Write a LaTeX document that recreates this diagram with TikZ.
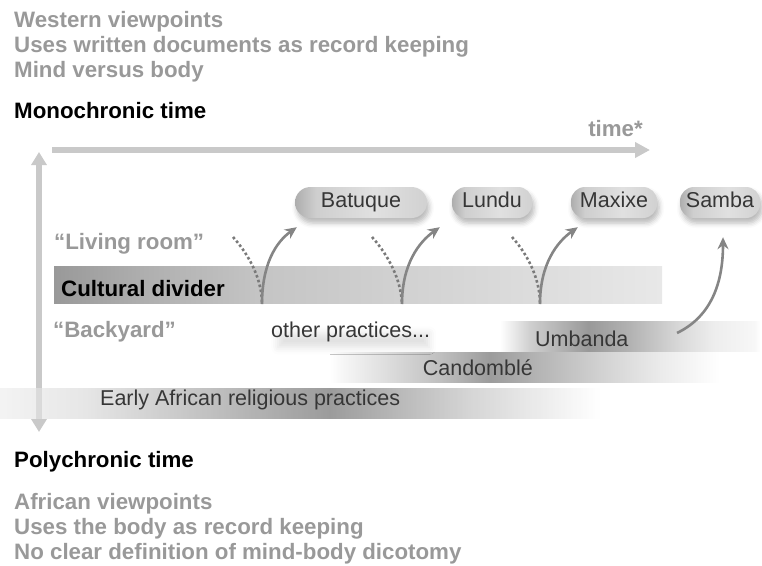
\documentclass[tikz,border=0pt]{standalone}
\usepackage{fontspec}
\setmainfont{Liberation Sans}
\usetikzlibrary{arrows.meta,positioning,shadows.blur}

\definecolor{labelgray}{HTML}{999999}
\definecolor{axisgray}{HTML}{C9C9C9}
\definecolor{arrowgray}{HTML}{858585}
\definecolor{dotgray}{HTML}{7A7A7A}
\definecolor{textdark}{HTML}{363636}

% shadings of the bars (bbox is mapped on 25bp..75bp)
\pgfdeclarehorizontalshading{dividershade}{100bp}{color(0bp)=(black!40); color(25bp)=(black!40);
  color(32.9bp)=(black!31); color(41.9bp)=(black!23); color(53.5bp)=(black!18);
  color(65.8bp)=(black!13); color(75bp)=(black!9); color(100bp)=(black!9)}
\pgfdeclarehorizontalshading{umbshade}{100bp}{color(0bp)=(white); color(25bp)=(white);
  color(30.8bp)=(black!19); color(42bp)=(black!40); color(50bp)=(black!30);
  color(59.6bp)=(black!15); color(66bp)=(black!7); color(74bp)=(black!3);
  color(75bp)=(white); color(100bp)=(white)}
\pgfdeclarehorizontalshading{candshade}{100bp}{color(0bp)=(white); color(25bp)=(white);
  color(26.9bp)=(black!4); color(39.1bp)=(black!25); color(45.5bp)=(black!39);
  color(51.9bp)=(black!29); color(59.6bp)=(black!18); color(67.3bp)=(black!8);
  color(75bp)=(white); color(100bp)=(white)}
\pgfdeclarehorizontalshading{earlyshade}{100bp}{color(0bp)=(black!7); color(25bp)=(black!7);
  color(32.1bp)=(black!15); color(41.7bp)=(black!36); color(52.5bp)=(black!60);
  color(58.3bp)=(black!42); color(64.2bp)=(black!25); color(75bp)=(white);
  color(100bp)=(white)}
\pgfdeclarehorizontalshading{pillshade}{100bp}{color(0bp)=(black!32); color(25bp)=(black!32);
  color(33bp)=(black!19); color(55bp)=(black!12); color(75bp)=(black!18);
  color(100bp)=(black!18)}

\begin{document}
\begin{tikzpicture}[x=1pt, y=-1pt,
    boldtext/.style={font=\fontsize{22.3}{25}\selectfont\bfseries, inner sep=0pt},
    graylabel/.style={boldtext, text=labelgray},
    blacklabel/.style={boldtext, text=black},
    plaintext/.style={font=\fontsize{21.5}{24}\selectfont, text=textdark, inner sep=0pt},
    dance/.style={plaintext, shading=pillshade, rounded corners=14pt,
                  minimum height=31pt, text height=15pt, text depth=4.5pt,
                  blur shadow={shadow xshift=2pt, shadow yshift=-5pt,
                               shadow blur radius=5pt, shadow opacity=28}},
    axis/.style={axisgray, line width=5.5pt},
    curve/.style={arrowgray, line width=2.6pt, -{Stealth[length=12pt, width=11pt]}},
    dotline/.style={dotgray, line width=2.6pt, dash pattern=on 2.6pt off 2.4pt}
    ]
    \useasboundingbox (0,0) rectangle (762,565);

    % Viewpoints -------------------------------------------------------
    \node[graylabel, anchor=base west] (west1) at (14,27) {Western viewpoints};
    \node[graylabel, anchor=base west] (west2) at (14,52) {Uses written documents as record keeping};
    \node[graylabel, anchor=base west] (west3) at (14,77) {Mind versus body};
    \node[blacklabel, anchor=base west] (mono) at (14,118) {Monochronic time};

    % Axes
    \node[graylabel, anchor=base east] (time) at (643,136) {time*};
    \coordinate (tstart) at (52,150);
    \coordinate (tend) at (650,150);
    \draw[axis, -{Triangle[length=15pt, width=15pt]}] (tstart) -- (tend);
    \coordinate (vtop) at (39,152);
    \coordinate (vbot) at (39,432);
    \draw[axis, {Triangle[length=13pt, width=15pt]}-{Triangle[length=13pt, width=15pt]}] (vtop) -- (vbot);

    % Bars
    \shade[shading=dividershade] (54,266) rectangle (662,303);
    \shade[shading=umbshade] (500,321) rectangle (760,351);
    \shade[shading=candshade] (330,352) rectangle (720,382);
    \shade[shading=earlyshade, fill opacity=0.65] (0,388) rectangle (600,418);

    \node[graylabel, anchor=base west] (living) at (54,249) {“Living room”};
    \node[blacklabel, anchor=base west] (divider) at (61,296) {Cultural divider};
    \node[graylabel, anchor=base west] (backyard) at (53,337) {“Backyard”};
    \node[plaintext, anchor=base west, inner xsep=-4pt, inner ysep=-3pt,
          blur shadow={shadow xshift=3pt, shadow yshift=-9pt,
                       shadow blur radius=7pt, shadow opacity=12}] (other) at (275,337) {other practices...};
    \node[plaintext, anchor=base west] (umb) at (535,346) {Umbanda};
    \node[plaintext, anchor=base east] (cand) at (533,375) {Candomblé};
    \node[plaintext, anchor=base west] (early) at (100,405) {Early African religious practices};

    % Dances
    \node[dance, minimum width=132pt, rounded corners=15.5pt] (bat) at (361,202.5) {Batuque};
    \node[dance, minimum width=80pt] (lun) at (492,202.5) {Lundu};
    \node[dance, minimum width=86pt] (max) at (614,202.5) {Maxixe};
    \node[dance, minimum width=80pt] (sam) at (720,202.5) {Samba};

    % Crossings of the divider
    \coordinate (s1) at (262,304);
    \coordinate (t1) at (233,237);
    \coordinate (s2) at (402,304);
    \coordinate (t2) at (372,237);
    \coordinate (s3) at (540,304);
    \coordinate (t3) at (512,237);
    \coordinate (s4) at (677,333);

    \draw[dotline] (t1) .. controls (250,256) and (262,280) .. (s1);
    \draw[dotline] (t2) .. controls (389,256) and (401,280) .. (s2);
    \draw[dotline] (t3) .. controls (529,256) and (540,280) .. (s3);

    \draw[curve] (s1) .. controls (262,264) and (276,242) .. ([shift={(2,9)}]bat.south west);
    \draw[curve] (s2) .. controls (402,264) and (419,242) .. ([shift={(-12,9)}]lun.south west);
    \draw[curve] (s3) .. controls (540,264) and (557,242) .. ([shift={(7,9)}]max.south west);
    \draw[curve] (s4) .. controls (708,318) and (723,288) .. ([shift={(3,19)}]sam.south);

    % Polychronic ------------------------------------------------------
    \node[blacklabel, anchor=base west] (poly) at (14,467) {Polychronic time};
    \node[graylabel, anchor=base west] (afr1) at (14,509) {African viewpoints};
    \node[graylabel, anchor=base west] (afr2) at (14,534) {Uses the body as record keeping};
    \node[graylabel, anchor=base west] (afr3) at (14,559) {No clear definition of mind-body dicotomy};
\end{tikzpicture}
\end{document}
